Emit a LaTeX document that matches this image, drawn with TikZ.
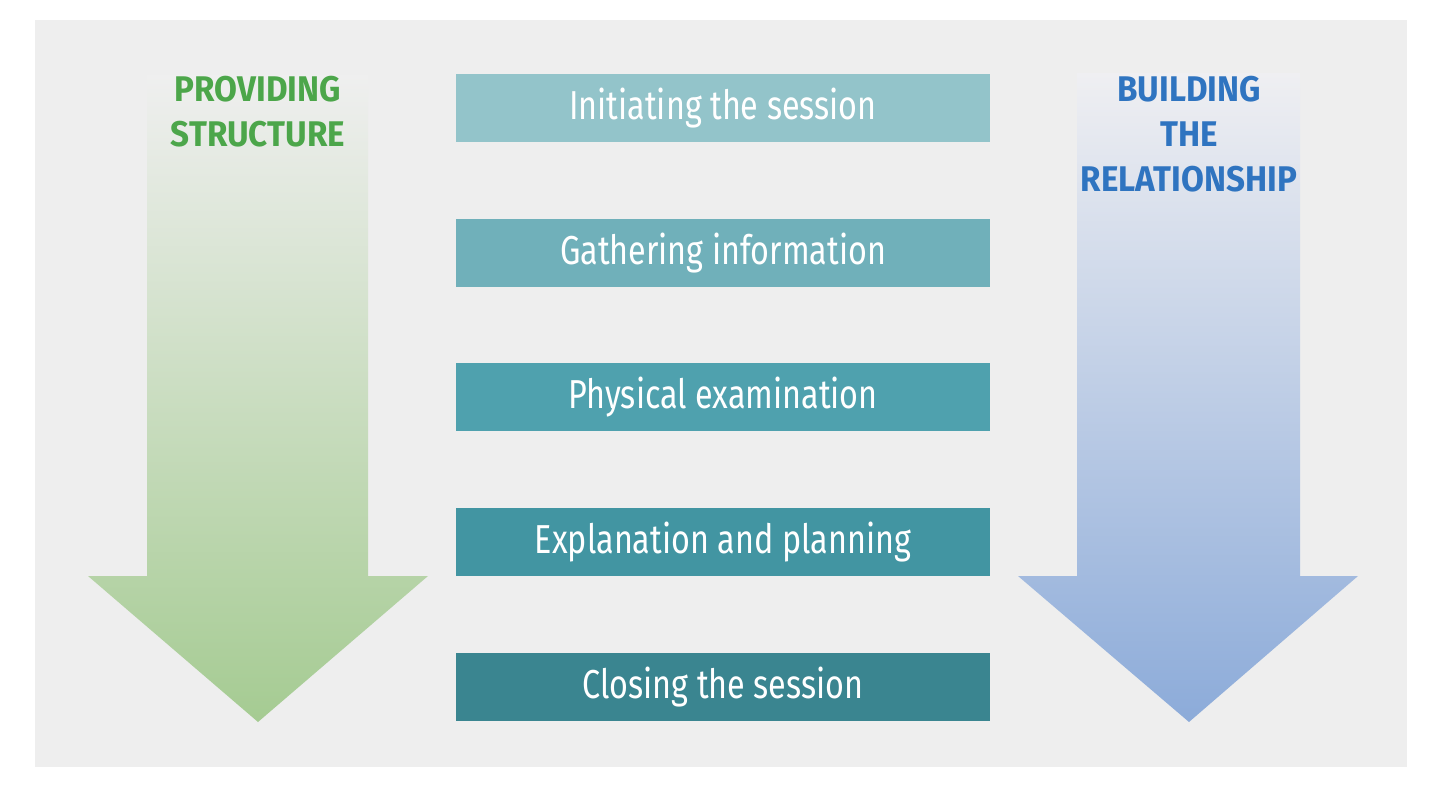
\documentclass[tikz,border=0pt]{standalone}
\usepackage{fontspec}
\usepackage{tikz}
\usetikzlibrary{positioning}

\newfontfamily\stagefont[FakeStretch=0.8]{Fira Sans}
\newfontfamily\headfont[FakeStretch=0.93]{Fira Sans}

\definecolor{panel}{HTML}{EEEEEE}
\definecolor{stageA}{HTML}{93C4CA}
\definecolor{stageB}{HTML}{70B0BA}
\definecolor{stageC}{HTML}{4FA1AE}
\definecolor{stageD}{HTML}{4295A2}
\definecolor{stageE}{HTML}{3A8590}
\definecolor{greenhead}{HTML}{4CA64A}
\definecolor{bluehead}{HTML}{2F74C0}
\definecolor{greentop}{HTML}{EFEFEF}
\definecolor{greenbot}{HTML}{A5CB92}
\definecolor{bluetop}{HTML}{EFEFF2}
\definecolor{bluebot}{HTML}{8CABD9}

\begin{document}
\begin{tikzpicture}[x=0.02cm,y=-0.02cm,node distance=1.52cm,
		stage/.style={rectangle,minimum width=10.68cm,minimum height=1.36cm,inner sep=0pt,
			text=white,font=\stagefont\fontsize{23}{26}\selectfont},
		heading/.style={align=center,inner sep=0pt,font=\headfont\bfseries\fontsize{20.3}{25.5}\selectfont}]
		
		\useasboundingbox (0,0) rectangle (1440,791);
		\fill[panel] (35,20) rectangle (1407,767);
		
		% the two big arrows
		\shade[top color=greentop,bottom color=greenbot]
		(147,75) -- (368,75) -- (368,576) -- (428,576) -- (258,722) -- (88,576) -- (147,576) -- cycle;
		\shade[top color=bluetop,bottom color=bluebot]
		(1077,73) -- (1300,73) -- (1300,576) -- (1358,576) -- (1189,722) -- (1018,576) -- (1077,576) -- cycle;
		
		\node[heading,text=greenhead](struct) at (258,112){PROVIDING\\STRUCTURE};
		\node[heading,text=bluehead](relat) at (1189,134){BUILDING\\THE\\RELATIONSHIP};
		
		% stages
		\node[stage,fill=stageA](init) at (723,108){Initiating the session};
		\node[stage,fill=stageB](gather)[below=of init]{Gathering information};
		\node[stage,fill=stageC](exam)[below=of gather]{Physical examination};
		\node[stage,fill=stageD](plan)[below=of exam]{Explanation and planning};
		\node[stage,fill=stageE](close)[below=of plan]{Closing the session};
		
	\end{tikzpicture}
\end{document}
